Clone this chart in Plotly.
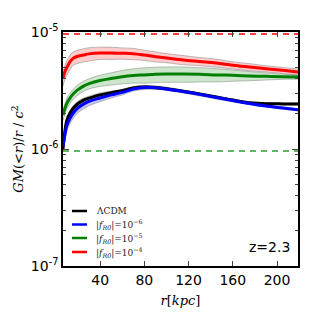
import plotly.graph_objects as go

r = [6.4, 8, 10, 13, 16, 20, 25, 30, 40, 50, 60, 70, 80, 90, 100, 115, 130, 145, 160, 175, 190, 205, 219]

lcdm = [1.0e-6, 1.4e-6, 1.77e-6, 2.05e-6, 2.25e-6, 2.45e-6, 2.62e-6, 2.72e-6, 2.90e-6, 3.03e-6, 3.15e-6, 3.32e-6,
        3.39e-6, 3.36e-6, 3.28e-6, 3.12e-6, 2.95e-6, 2.78e-6, 2.62e-6, 2.49e-6, 2.44e-6, 2.43e-6, 2.43e-6]
f6 = [1.05e-6, 1.3e-6, 1.6e-6, 1.85e-6, 2.05e-6, 2.25e-6, 2.42e-6, 2.55e-6, 2.73e-6, 2.90e-6, 3.05e-6, 3.26e-6,
      3.36e-6, 3.34e-6, 3.26e-6, 3.10e-6, 2.93e-6, 2.76e-6, 2.60e-6, 2.45e-6, 2.33e-6, 2.24e-6, 2.16e-6]
f5 = [1.95e-6, 2.2e-6, 2.47e-6, 2.75e-6, 2.98e-6, 3.22e-6, 3.45e-6, 3.62e-6, 3.85e-6, 4.0e-6, 4.15e-6, 4.25e-6,
      4.3e-6, 4.35e-6, 4.37e-6, 4.37e-6, 4.35e-6, 4.30e-6, 4.26e-6, 4.21e-6, 4.18e-6, 4.15e-6, 4.12e-6]
f4 = [4.0e-6, 4.55e-6, 5.0e-6, 5.6e-6, 6.0e-6, 6.2e-6, 6.36e-6, 6.5e-6, 6.62e-6, 6.62e-6, 6.58e-6, 6.52e-6,
      6.35e-6, 6.15e-6, 6.0e-6, 5.77e-6, 5.6e-6, 5.43e-6, 5.2e-6, 5.02e-6, 4.85e-6, 4.7e-6, 4.55e-6]

# fractional half-widths of the shaded bands
lcdm_err = [0.06, 0.06, 0.06, 0.05, 0.05, 0.05, 0.04, 0.04, 0.04, 0.03, 0.03, 0.03,
            0.03, 0.03, 0.03, 0.02, 0.02, 0.02, 0.02, 0.02, 0.02, 0.02, 0.02]
f6_err = [0.10, 0.10, 0.10, 0.10, 0.10, 0.09, 0.09, 0.08, 0.07, 0.06, 0.05, 0.04,
          0.04, 0.03, 0.03, 0.03, 0.03, 0.03, 0.03, 0.02, 0.02, 0.02, 0.02]
f5_err = [0.10, 0.10, 0.10, 0.10, 0.10, 0.10, 0.10, 0.10, 0.11, 0.12, 0.13, 0.14,
          0.15, 0.15, 0.15, 0.15, 0.14, 0.13, 0.11, 0.09, 0.07, 0.05, 0.04]
f4_err = [0.14, 0.14, 0.14, 0.14, 0.13, 0.13, 0.13, 0.13, 0.12, 0.12, 0.11, 0.11,
          0.10, 0.10, 0.09, 0.09, 0.08, 0.08, 0.07, 0.07, 0.06, 0.06, 0.06]

thresh_f4 = 9.6e-6
thresh_f5 = 9.6e-7

labels = ["ΛCDM", "|<i>f</i><sub><i>R0</i></sub>|=10<sup>−6</sup>",
          "|<i>f</i><sub><i>R0</i></sub>|=10<sup>−5</sup>", "|<i>f</i><sub><i>R0</i></sub>|=10<sup>−4</sup>"]
colors = ["black", "blue", "green", "red"]
fills = ["rgba(0,0,0,0.18)", "rgba(0,0,255,0.22)", "rgba(0,128,0,0.2)", "rgba(255,0,0,0.2)"]
series = [lcdm, f6, f5, f4]
errs = [lcdm_err, f6_err, f5_err, f4_err]

xr = [6.4, 219]

fig = go.Figure()

# dashed threshold lines
fig.add_trace(go.Scatter(x=xr, y=[thresh_f4, thresh_f4], mode="lines",
                         line=dict(color="red", width=1.5, dash="6px,5px"), showlegend=False, hoverinfo="skip"))
fig.add_trace(go.Scatter(x=xr, y=[thresh_f5, thresh_f5], mode="lines",
                         line=dict(color="#2ca02c", width=1.5, dash="6px,5px"), showlegend=False, hoverinfo="skip"))

for vals, err, col, fc in zip(series, errs, colors, fills):
    up = [v * (1 + e) for v, e in zip(vals, err)]
    lo = [v * (1 - e) for v, e in zip(vals, err)]
    fig.add_trace(go.Scatter(x=r, y=up, mode="lines", line=dict(color="rgba(128,128,128,0.5)", width=1, shape="spline"),
                             showlegend=False, hoverinfo="skip"))
    fig.add_trace(go.Scatter(x=r, y=lo, mode="lines", line=dict(color="rgba(128,128,128,0.5)", width=1, shape="spline"),
                             fill="tonexty", fillcolor=fc, showlegend=False, hoverinfo="skip"))

for vals, col in zip(series, colors):
    fig.add_trace(go.Scatter(x=r, y=vals, mode="lines", line=dict(color=col, width=3, shape="spline"),
                             showlegend=False))

# manual legend
leg_y = [211, 224.5, 238, 252]
for lab, col, yy in zip(labels, colors, leg_y):
    yp = 1 - (yy - 32) / 234
    fig.add_shape(type="line", xref="paper", yref="paper", x0=(72 - 63) / 235, x1=(87 - 63) / 235,
                  y0=yp, y1=yp, line=dict(color=col, width=2.5))
    fig.add_annotation(xref="paper", yref="paper", x=(94 - 63) / 235, y=yp, text=lab, showarrow=False,
                       xanchor="left", yanchor="middle",
                       font=dict(family="DejaVu Serif", size=9, color="#222"))

fig.add_annotation(xref="paper", yref="paper", x=(292 - 63) / 235, y=1 - (247 - 32) / 234, text="z=2.3",
                   showarrow=False, xanchor="right", yanchor="middle",
                   font=dict(family="DejaVu Sans", size=14, color="black"))

minor_vals = [m * 10 ** e for e in (-7, -6) for m in range(2, 10)]

fig.update_xaxes(range=xr, tickvals=[40, 80, 120, 160, 200], ticks="inside", ticklen=5, tickwidth=1,
                 mirror="ticks", showline=True, linecolor="black", linewidth=1.5, showgrid=False, zeroline=False,
                 automargin=False,
                 tickfont=dict(family="DejaVu Sans", size=14, color="black"),
                 title=dict(text="<i>r</i>[<i>kpc</i>]", font=dict(family="DejaVu Serif", size=13, color="black"),
                            standoff=9))
fig.update_yaxes(type="log", range=[-7, -5], tickvals=[1e-7, 1e-6, 1e-5],
                 ticktext=["10<sup>-7</sup>", "10<sup>-6</sup>", "10<sup>-5</sup>"],
                 ticks="inside", ticklen=6, tickwidth=1, mirror="ticks", showline=True, linecolor="black",
                 linewidth=1.5, showgrid=False, zeroline=False, automargin=False,
                 minor=dict(tickvals=minor_vals, ticks="inside", ticklen=3, tickwidth=1, showgrid=False),
                 tickfont=dict(family="DejaVu Sans", size=14, color="black"),
                 title=dict(text="<i>GM</i>(&lt;<i>r</i>)/<i>r</i> / <i>c</i><sup>2</sup>",
                            font=dict(family="DejaVu Serif", size=13, color="black"), standoff=4))

fig.update_layout(width=314, height=314, margin=dict(l=63, r=16, t=32, b=48),
                  plot_bgcolor="white", paper_bgcolor="white", showlegend=False)

fig.write_html("out.html", config={"displayModeBar": False},
               post_script="document.body.style.margin='0';")
